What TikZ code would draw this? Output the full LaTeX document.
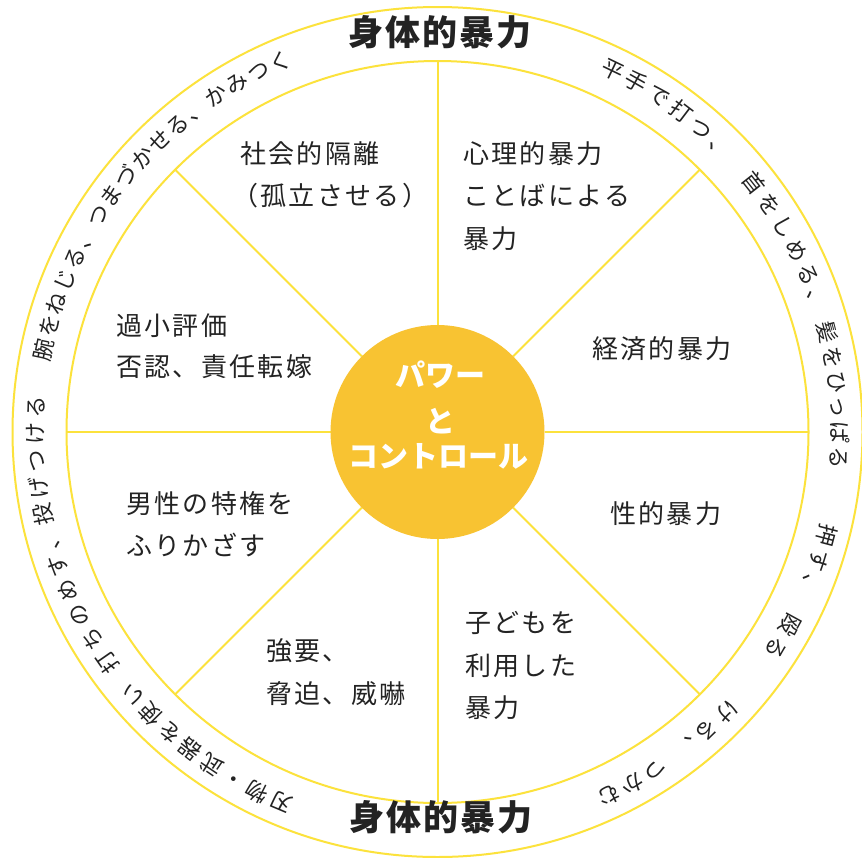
\documentclass[tikz,border=0pt]{standalone}
\usepackage{fontspec}
\usetikzlibrary{calc}
\newfontfamily\jp{Noto Sans CJK JP}
\newfontfamily\jpsp[LetterSpace=9]{Noto Sans CJK JP}
\newfontfamily\jpt[LetterSpace=6]{Noto Sans CJK JP}
\definecolor{ringyellow}{RGB}{252,226,60}
\definecolor{hubfill}{RGB}{248,195,50}
\definecolor{txt}{RGB}{35,35,35}
\newcommand\ringseg[4]{%
  \foreach \c [count=\i from 0] in {#4} {
    \pgfmathsetmacro\ang{#2-\i*#3}
    \node[ch, rotate=\ang-90] (#1\i) at ($(C)+(\ang:398)$) {\c};
  }}
\begin{document}
\begin{tikzpicture}[x=1pt,y=1pt,
  ring/.style={draw=ringyellow, line width=2pt},
  lbl/.style={font=\jpsp\fontsize{26}{30}\selectfont, text=txt, anchor=west, inner sep=0pt, text height=0.88em, text depth=0.12em},
  ch/.style={font=\jp\fontsize{22}{24}\selectfont, text=txt, inner sep=0pt, text height=0.88em, text depth=0.12em},
  ttl/.style={font=\jpt\bfseries\fontsize{35}{38}\selectfont, text=txt, inner sep=0pt, text height=0.88em, text depth=0.12em},
  hubtxt/.style={font=\jp\bfseries\fontsize{30}{32}\selectfont, text=white, inner sep=0pt, text height=0.88em, text depth=0.12em}]
\useasboundingbox (0,0) rectangle (862,-857);
\fill[white] (0,0) rectangle (862,-857);
\coordinate (C) at (437.5,-432);
\draw[ring] (C) circle[radius=425];
\draw[ring] (C) circle[radius=371];
\foreach \a in {0,45,...,315} \draw[ring] ($(C)+(\a:107)$) -- ($(C)+(\a:371)$);
\node[circle, fill=hubfill, minimum size=214pt, inner sep=0pt] (hub) at (C) {};
\node[hubtxt] (h1) at (440,-383) {パワー};
\node[hubtxt] (h2) at (440,-429) {と};
\node[hubtxt] (h3) at (438,-464) {コントロール};
% titles
\node[ttl] (t1) at (440,-42) {身体的暴力};
\node[ttl] (t2) at (441,-827) {身体的暴力};
% sector labels
\node[lbl] (s1a) at (240,-160) {社会的隔離};
\node[lbl] (s1b) at (232,-202) {（孤立させる）};
\node[lbl] (s2a) at (463,-160) {心理的暴力};
\node[lbl] (s2b) at (463,-202) {ことばによる};
\node[lbl] (s2c) at (463,-245) {暴力};
\node[lbl] (s3) at (592,-355) {経済的暴力};
\node[lbl] (s4a) at (116,-332) {過小評価};
\node[lbl] (s4b) at (116,-373) {否認、責任転嫁};
\node[lbl] (s5a) at (126,-510) {男性の特権を};
\node[lbl] (s5b) at (126,-552) {ふりかざす};
\node[lbl] (s6a) at (266,-657) {強要、};
\node[lbl] (s6b) at (266,-700) {脅迫、威嚇};
\node[lbl] (s7) at (610,-520) {性的暴力};
\node[lbl] (s8a) at (465,-629) {子どもを};
\node[lbl] (s8b) at (465,-672) {利用した};
\node[lbl] (s8c) at (465,-714) {暴力};
% ring texts
\ringseg{ra}{64.2}{3.8}{平,手,で,打,つ,、}
\ringseg{rb}{38.2}{3.8}{首,を,し,め,る,、}
\ringseg{rc}{14.3}{3.6}{髪,を,ひ,っ,ぱ,る}
\ringseg{rd}{-14.8}{3.8}{押,す,、}
\ringseg{re}{-28.7}{3.8}{殴,る}
\ringseg{rf}{-44.1}{3.8}{け,る,、}
\ringseg{rg}{-57.2}{3.8}{つ,か,む}
\ringseg{rh}{247.1}{3.76}{刃,物,・,武,器,を,使,い}
\ringseg{ri}{214.8}{3.84}{打,ち,の,め,す,、,投,げ,つ,け,る}
\ringseg{rj}{168.2}{3.45}{腕,を,ね,じ,る,、,つ,ま,づ,か,せ,る,、,か,み,つ,く}
\end{tikzpicture}
\end{document}
